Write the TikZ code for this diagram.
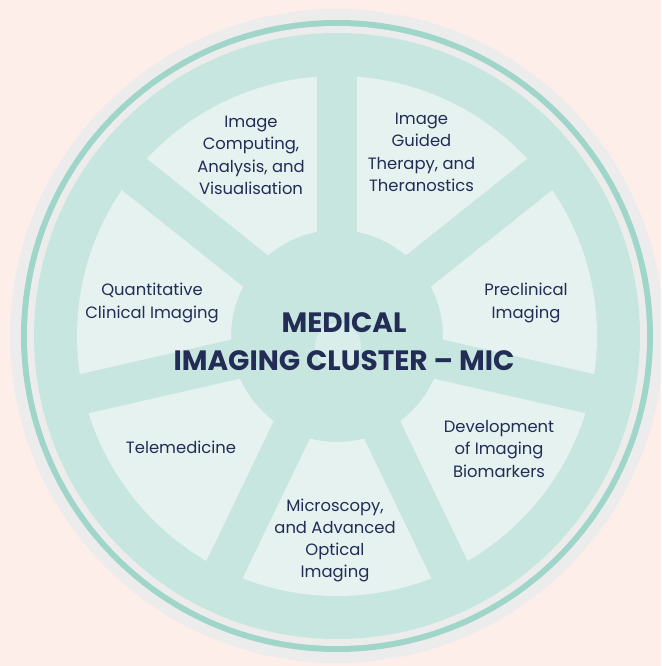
\documentclass[tikz,border=0pt]{standalone}
\usepackage{fontspec}
\setmainfont{Poppins}
\usetikzlibrary{calc}
\definecolor{bgpink}{HTML}{FDEEEA}
\definecolor{rimgray}{HTML}{ECECEC}
\definecolor{rimteal}{HTML}{9FD6C9}
\definecolor{mainfill}{HTML}{C8E6E0}
\definecolor{segfill}{HTML}{E5F2F0}
\definecolor{hublight}{HTML}{D9EEEA}
\definecolor{navy}{HTML}{222C55}
\begin{document}
\begin{tikzpicture}[x=0.75pt,y=0.75pt,
  lbl/.style={align=center,inner sep=0pt,text=navy,font=\fontsize{12.3pt}{16.7pt}\selectfont},
  ttl/.style={align=center,inner sep=0pt,text=navy,font=\fontsize{21pt}{28.5pt}\selectfont\bfseries},
  spoke/.style={draw=mainfill,line width=30pt}]
\clip (0,0) rectangle (661,666);
\fill[bgpink] (0,0) rectangle (661,666);
\coordinate (c) at (337,330);
\fill[rimgray] (c) circle (327);
\fill[rimteal] (c) circle (316);
\fill[rimgray] (c) circle (310);
\fill[mainfill] (c) circle (303);
\fill[segfill,even odd rule] (c) circle (260) (c) circle (106);
\foreach \a in {90,38.571,-12.857,-64.286,-115.714,-167.143,141.429}{
  \coordinate (s) at ($(c)+(\a:280)$);
  \path[spoke] (c) -- (s);
}
\fill[hublight] (338,320) circle (23);
\node[lbl] (comp) at (251,510.5) {Image\\Computing,\\Analysis, and\\Visualisation};
\node[lbl] (guid) at (421.5,513.5) {Image\\Guided\\Therapy, and\\Theranostics};
\node[lbl] (prec) at (526,363) {Preclinical\\Imaging};
\node[lbl] (quan) at (152,363) {Quantitative\\Clinical Imaging};
\node[lbl] (tele) at (181,218.5) {Telemedicine};
\node[lbl] (deve) at (499,217) {Development\\of Imaging\\Biomarkers};
\node[lbl] (micr) at (335,125.6) {Microscopy,\\and Advanced\\Optical\\Imaging};
\node[ttl] (title) at (344,324) {MEDICAL\\IMAGING CLUSTER -- MIC};
\end{tikzpicture}
\end{document}
